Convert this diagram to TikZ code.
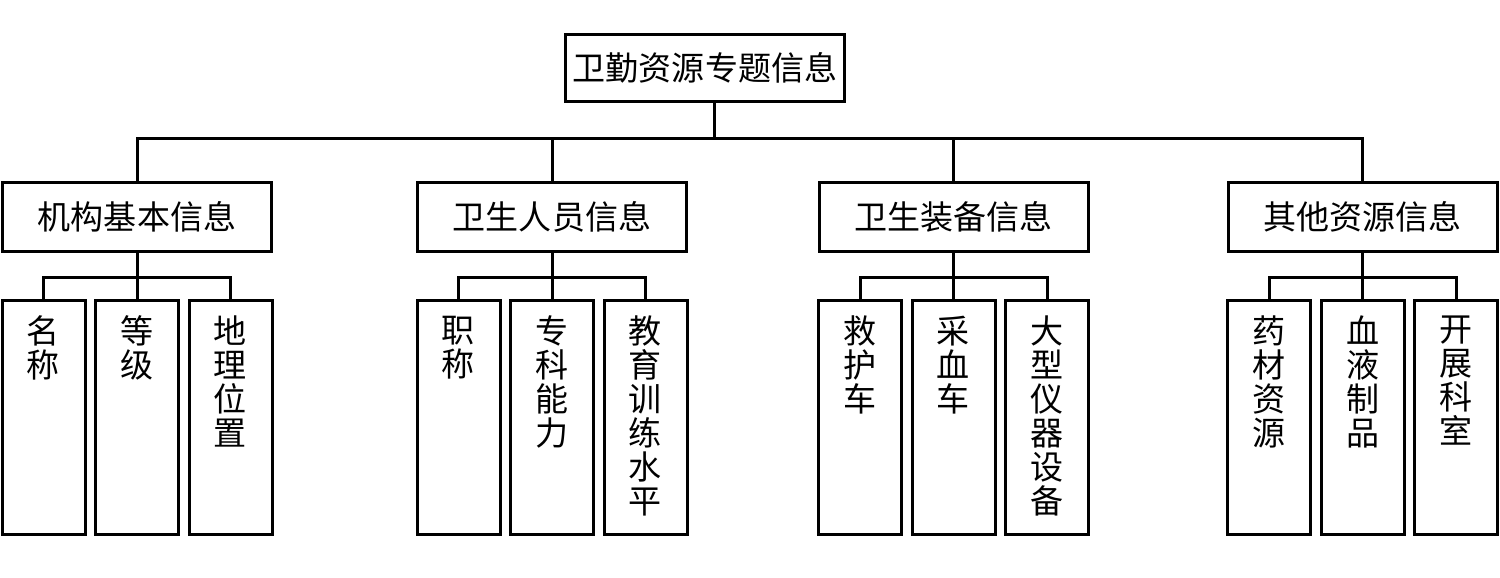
\documentclass[tikz,border=0pt]{standalone}
\usepackage{fontspec}
\setmainfont{Noto Sans CJK SC}
\usetikzlibrary{positioning, calc}

\begin{document}
\begin{tikzpicture}[
    box/.style={rectangle, draw=black, line width=0.06cm, inner sep=0pt, font=\fontsize{18.8}{19.3}\selectfont},
    topbox/.style={box, minimum width=5.58cm, minimum height=1.34cm},
    groupbox/.style={box, minimum width=5.38cm, minimum height=1.38cm},
    leaf/.style={box, minimum width=1.66cm, minimum height=4.68cm},
    leaftext/.style={anchor=north, align=center, inner sep=0pt, font=\fontsize{18.8}{19.3}\selectfont},
    link/.style={line width=0.06cm}]

        % Page frame
        \useasboundingbox (0,0) rectangle (30,-11.54);

        % Root box
        \node[topbox] (root) at (14.1,-1.36) {卫勤资源专题信息};

        % Second level boxes and their leaf boxes
        \foreach \g/\x/\name in {1/2.74/机构基本信息, 2/11.04/卫生人员信息, 3/19.07/卫生装备信息, 4/27.25/其他资源信息} {
            \node[groupbox] at (\x,-4.34) (g\g) {\name};
            \foreach \k/\dx in {1/-1.87, 2/0, 3/1.87} {
                \node[leaf] at (\x+\dx,-8.35) (g\g-\k) {};
            }
        }

        % Leaf texts, one character per line:
        % 机构基本信息
        \node[leaftext] at ([yshift=-0.33cm]g1-1.north) {名\\称};
        \node[leaftext] at ([yshift=-0.33cm]g1-2.north) {等\\级};
        \node[leaftext] at ([yshift=-0.33cm]g1-3.north) {地\\理\\位\\置};
        % 卫生人员信息
        \node[leaftext] at ([yshift=-0.33cm]g2-1.north) {职\\称};
        \node[leaftext] at ([yshift=-0.33cm]g2-2.north) {专\\科\\能\\力};
        \node[leaftext] at ([yshift=-0.33cm]g2-3.north) {教\\育\\训\\练\\水\\平};
        % 卫生装备信息
        \node[leaftext] at ([yshift=-0.33cm]g3-1.north) {救\\护\\车};
        \node[leaftext] at ([yshift=-0.33cm]g3-2.north) {采\\血\\车};
        \node[leaftext] at ([yshift=-0.33cm]g3-3.north) {大\\型\\仪\\器\\设\\备};
        % 其他资源信息
        \node[leaftext] at ([yshift=-0.33cm]g4-1.north) {药\\材\\资\\源};
        \node[leaftext] at ([yshift=-0.33cm]g4-2.north) {血\\液\\制\\品};
        \node[leaftext] at ([yshift=-0.33cm]g4-3.north) {开\\展\\科\\室};

        % Connectors
        \coordinate (bus) at (0,-2.76);
        \coordinate (lbus) at (0,-5.54);
        \draw[link] ([xshift=0.18cm]root.south) -- ([xshift=0.18cm]root.south |- bus);
        \draw[link] (g1.north) |- (g4.north |- bus) -- (g4.north);
        \draw[link] (g2.north) -- (g2.north |- bus);
        \draw[link] (g3.north) -- (g3.north |- bus);
        \foreach \g in {1,...,4} {
            \draw[link] (g\g.south) -- (g\g.south |- lbus);
            \draw[link] (g\g-1.north) |- (g\g-3.north |- lbus) -- (g\g-3.north);
            \draw[link] (g\g-2.north) -- (g\g-2.north |- lbus);
        }

\end{tikzpicture}
\end{document}
